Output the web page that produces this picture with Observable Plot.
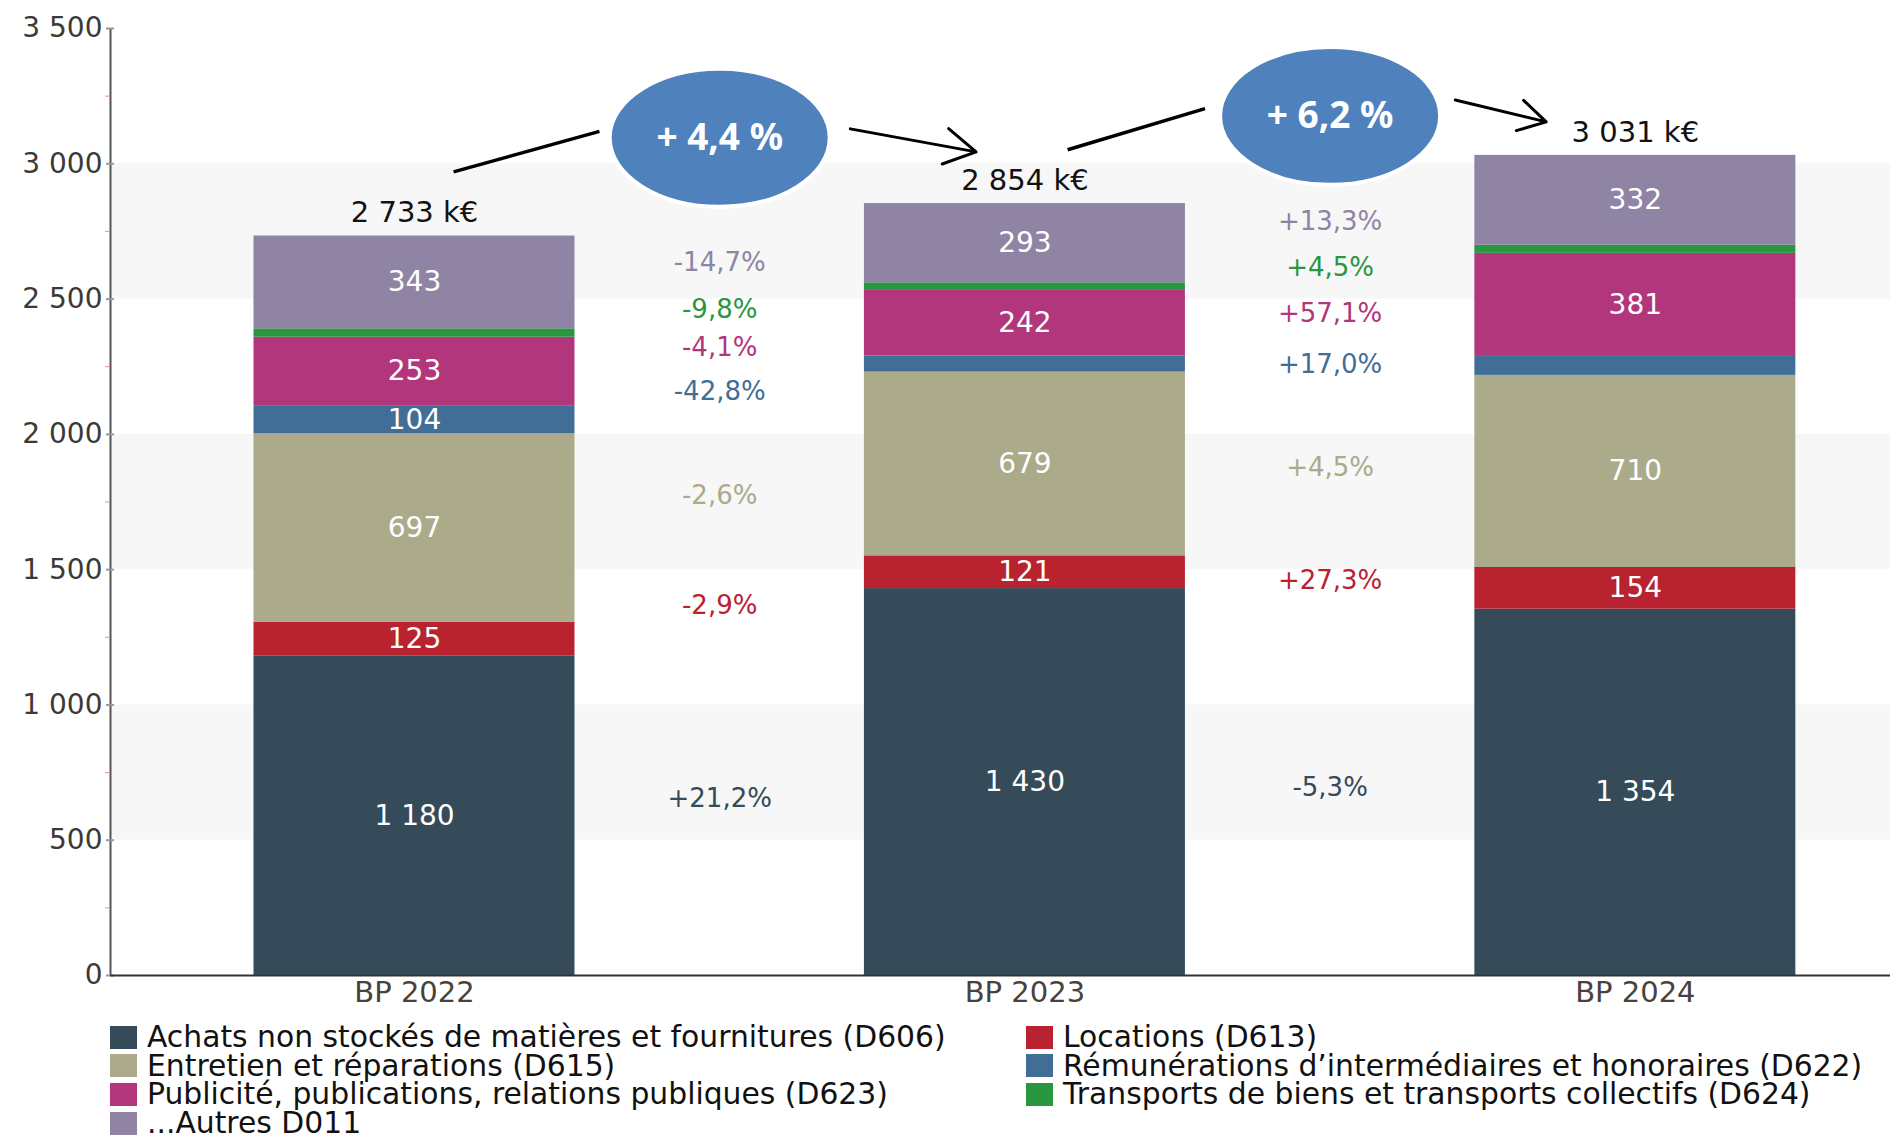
<!DOCTYPE html>
<html><head><meta charset="utf-8">
<script src="https://cdn.jsdelivr.net/npm/d3@7"></script>
<script src="https://cdn.jsdelivr.net/npm/@observablehq/plot@0.6"></script>
<style>
html,body{margin:0;padding:0;background:#fff;}
body{width:1890px;height:1138px;overflow:hidden;font-family:"DejaVu Sans",sans-serif;}
#chart svg{display:block;overflow:visible;}
#chart g[aria-label^="x-axis"] text{font-size:29px;fill:#48423d;}
#chart g[aria-label^="y-axis"] text{font-size:28px;fill:#3d3935;}
#legend{position:relative;width:1890px;height:128px;}
.item{position:absolute;height:28px;line-height:28px;display:flex;align-items:center;font-size:29.8px;color:#111;white-space:nowrap;}
.sw{width:27px;height:23px;margin-right:10px;flex:none;}
</style></head><body>
<div id="chart"></div>
<div id="legend"></div>
<script>
// ---- data ----
const categories = ["BP 2022", "BP 2023", "BP 2024"];
const series = [
  "Achats non stockés de matières et fournitures (D606)",
  "Locations (D613)",
  "Entretien et réparations (D615)",
  "Rémunérations d’intermédiaires et honoraires (D622)",
  "Publicité, publications, relations publiques (D623)",
  "Transports de biens et transports collectifs (D624)",
  "...Autres D011"
];
const seriesColors = ["#354b5a", "#b8232f", "#abaa8b", "#416e96", "#b2367b", "#2a963f", "#8f84a3"];
const achats = [1180, 1430, 1354];
const locations = [125, 121, 154];
const entretien = [697, 679, 710];
const remunerations = [104, 60, 70];
const publicite = [253, 242, 381];
const transports = [31, 28, 30];
const autres = [343, 293, 332];
// which segment values are printed inside the bars
const labelShown = [
  [true, true, true], [true, true, true], [true, true, true],
  [true, false, false], [true, true, true], [false, false, false], [true, true, true]
];
const totalLabels = ["2 733 k€", "2 854 k€", "3 031 k€"];
const totals = [2733, 2854, 3031];
// variations between consecutive budgets, per series (bottom to top)
const variation2023 = ["+21,2%", "-2,9%", "-2,6%", "-42,8%", "-4,1%", "-9,8%", "-14,7%"];
const variation2024 = ["-5,3%", "+27,3%", "+4,5%", "+17,0%", "+57,1%", "+4,5%", "+13,3%"];
const growthLabels = ["+ 4,4 %", "+ 6,2 %"];
const growthY = [3096, 3177];
// connector lines / arrows (index units on x, k€ on y)
const lineX1 = [0.064, 1.070], lineY1 = [2970, 3052], lineX2 = [0.303, 1.295], lineY2 = [3120, 3204];
const arrowX1 = [0.714, 1.705], arrowY1 = [3129, 3236], arrowX2 = [0.92, 1.854], arrowY2 = [3044, 3155];
const yTicks = [0, 500, 1000, 1500, 2000, 2500, 3000, 3500];
const yMinorTicks = [250, 750, 1250, 1750, 2250, 2750, 3250];
const shadedBands = [500, 1500, 2500];

// ---- build tables ----
const valuesBySeries = [achats, locations, entretien, remunerations, publicite, transports, autres];
const fmt = d3.formatLocale({decimal: ",", thousands: " ", grouping: [3], currency: ["", ""]}).format(",d");
const rows = [];
valuesBySeries.forEach((vals, s) => vals.forEach((v, i) => rows.push({
  i, series: series[s], value: v, label: labelShown[s][i] ? fmt(v) : ""
})));
// stack midpoints for the variation labels
const mids = valuesBySeries.map(() => []);
categories.forEach((c, i) => {
  let acc = 0;
  valuesBySeries.forEach((vals, s) => { mids[s][i] = acc + vals[i] / 2; acc += vals[i]; });
});
const variationRows = [];
[variation2023, variation2024].forEach((labels, g) => labels.forEach((t, s) => variationRows.push({
  x: g + 0.5, y: (mids[s][g] + mids[s][g + 1]) / 2, text: t, series: series[s]
})));
const totalRows = totals.map((t, i) => ({i, total: t, text: totalLabels[i]}));
const growthRows = growthLabels.map((t, g) => ({x: g + 0.5, y: growthY[g], text: t}));
const lineRows = lineX1.map((_, k) => ({x1: lineX1[k], y1: lineY1[k], x2: lineX2[k], y2: lineY2[k]}));
const arrowRows = arrowX1.map((_, k) => ({x1: arrowX1[k], y1: arrowY1[k], x2: arrowX2[k], y2: arrowY2[k]}));

// ---- layout ----
const W = 1890, H = 1010, mL = 110, mT = 28, mB = 35;
const xDomain = [-0.498, 2.418];
const ppu = (W - mL) / (xDomain[1] - xDomain[0]);
const half = 160.5 / ppu;

const ellipse = {
  draw(ctx, size) {
    const rx = Math.sqrt(size / Math.PI), ry = rx * 0.627, k = 0.5523;
    ctx.moveTo(rx, 0);
    ctx.bezierCurveTo(rx, k * ry, k * rx, ry, 0, ry);
    ctx.bezierCurveTo(-k * rx, ry, -rx, k * ry, -rx, 0);
    ctx.bezierCurveTo(-rx, -k * ry, -k * rx, -ry, 0, -ry);
    ctx.bezierCurveTo(k * rx, -ry, rx, -k * ry, rx, 0);
    ctx.closePath();
  }
};

const chart = Plot.plot({
  width: W, height: H,
  marginLeft: mL, marginRight: 0, marginTop: mT, marginBottom: mB,
  style: {fontFamily: "'DejaVu Sans', sans-serif", fontSize: "28px", background: "#fff", overflow: "visible"},
  x: {domain: xDomain, ticks: [0, 1, 2], tickFormat: i => categories[i], tickSize: 0, tickPadding: 6, label: null},
  y: {domain: [0, 3500], ticks: yTicks, tickFormat: fmt, tickSize: 0, tickPadding: 8, label: null},
  color: {domain: series, range: seriesColors},
  marks: [
    Plot.rect(shadedBands, {y1: d => d, y2: d => d + 500, fill: "#f7f7f7"}),
    Plot.rectY(rows, {x1: d => d.i - half, x2: d => d.i + half, y: "value", fill: "series"}),
    Plot.text(rows, Plot.stackY({x: "i", y: "value", text: "label", fill: "white", fontSize: 28})),
    Plot.text(variationRows, {x: "x", y: "y", text: "text", fill: "series", fontSize: 26}),
    Plot.text(totalRows, {x: "i", y: "total", text: "text", dy: -23, fill: "#111", fontSize: 29}),
    Plot.ruleX([xDomain[0]], {y1: 0, y2: 3500, stroke: "#555", strokeWidth: 2}),
    Plot.ruleY(yTicks, {x1: xDomain[0] - 4 / ppu, x2: xDomain[0] + 4 / ppu, stroke: "#999", strokeWidth: 2}),
    Plot.ruleY(yMinorTicks, {x1: xDomain[0] - 5 / ppu, x2: xDomain[0], stroke: "#f28c8c", strokeWidth: 1}),
    Plot.ruleY([0], {stroke: "#333", strokeWidth: 2}),
    Plot.link(lineRows, {x1: "x1", y1: "y1", x2: "x2", y2: "y2", stroke: "#000", strokeWidth: 3.5}),
    Plot.arrow(arrowRows, {x1: "x1", y1: "y1", x2: "x2", y2: "y2", stroke: "#000", strokeWidth: 3, headLength: 18}),
    Plot.dot(growthRows, {x: "x", y: "y", r: 110, symbol: ellipse, fill: "#4f81bd", stroke: "#fff", strokeWidth: 4}),
    Plot.text(growthRows, {x: "x", y: "y", text: "text", fill: "#fff", fontSize: 37, fontWeight: "bold", fontFamily: "'Noto Sans', sans-serif"})
  ]
});
document.getElementById("chart").appendChild(chart);

// ---- legend (two columns, row-major order) ----
const legend = document.getElementById("legend");
const colX = [110, 1026];
series.forEach((s, k) => {
  const row = Math.floor(k / 2), col = k % 2;
  const el = document.createElement("div");
  el.className = "item";
  el.style.left = colX[col] + "px";
  el.style.top = (13 + row * 28.7) + "px";
  const sw = document.createElement("span");
  sw.className = "sw";
  sw.style.background = seriesColors[k];
  el.appendChild(sw);
  el.appendChild(document.createTextNode(s));
  legend.appendChild(el);
});
</script>
</body></html>
